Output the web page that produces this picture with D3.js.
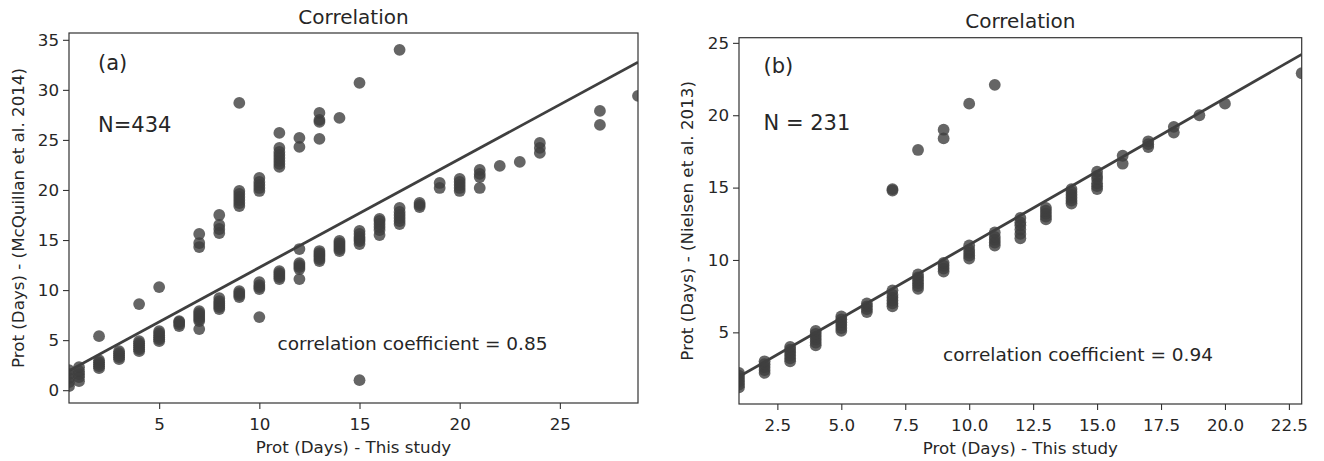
<!DOCTYPE html>
<html>
<head>
<meta charset="utf-8">
<script src="https://cdn.jsdelivr.net/npm/d3@7/dist/d3.min.js"></script>
<style>
  body { margin: 0; background: #fff; }
  text { font-family: "DejaVu Sans", sans-serif; fill: #262626; }
</style>
</head>
<body>
<div id="chart"></div>
<script>
// Width and height
var chart_width  = 1324;
var chart_height = 461;

// panel (a): Prot this study vs McQuillan et al. 2014, one column per x value
var aColumns = [
  [0.5, [0.4, 0.8, 1.2, 1.6, 2.0]],
  [1,   [0.9, 1.3, 1.6, 1.9, 2.3]],
  [2,   [2.2, 2.4, 2.6, 2.8, 3.0, 5.4]],
  [3,   [3.1, 3.3, 3.5, 3.7, 3.9]],
  [4,   [3.9, 4.1, 4.3, 4.5, 4.7, 4.9, 8.6]],
  [5,   [4.9, 5.1, 5.3, 5.5, 5.7, 5.9, 10.3]],
  [6,   [6.4, 6.6, 6.8, 6.9]],
  [7,   [6.1, 6.9, 7.1, 7.3, 7.5, 7.7, 7.9, 14.3, 14.7, 15.6]],
  [8,   [8.1, 8.3, 8.5, 8.7, 8.9, 9.2, 15.7, 16.1, 16.5, 17.5]],
  [9,   [9.3, 9.5, 9.7, 9.9, 18.4, 18.7, 19.0, 19.3, 19.6, 19.9, 28.7]],
  [10,  [7.3, 10.1, 10.3, 10.5, 10.8, 19.9, 20.2, 20.5, 20.8, 21.2]],
  [11,  [11.1, 11.3, 11.5, 11.7, 11.9, 22.3, 22.6, 22.9, 23.2, 23.5, 23.8, 24.2, 25.7]],
  [12,  [11.1, 12.1, 12.3, 12.5, 12.7, 14.1, 24.3, 25.2]],
  [13,  [12.9, 13.1, 13.3, 13.5, 13.7, 13.9, 25.1, 26.8, 27.0, 27.7]],
  [14,  [13.9, 14.1, 14.3, 14.5, 14.7, 14.9, 27.2]],
  [15,  [1.0, 14.6, 14.9, 15.1, 15.3, 15.6, 15.9, 30.7]],
  [16,  [15.5, 16.0, 16.3, 16.6, 16.9, 17.1]],
  [17,  [16.6, 16.9, 17.2, 17.5, 17.8, 18.2, 34.0]],
  [18,  [18.3, 18.5, 18.7]],
  [19,  [20.2, 20.7]],
  [20,  [19.9, 20.2, 20.5, 20.8, 21.1]],
  [21,  [20.2, 21.3, 21.6, 22.0]],
  [22,  [22.4]],
  [23,  [22.8]],
  [24,  [23.7, 24.2, 24.7]],
  [27,  [26.5, 27.9]],
  [28.9,[29.4]]
];

// panel (b): Prot this study vs Nielsen et al. 2013
var bColumns = [
  [1,  [1.2, 1.4, 1.6, 1.8, 2.0, 2.2]],
  [2,  [2.2, 2.4, 2.6, 2.8, 3.0]],
  [3,  [3.0, 3.2, 3.4, 3.6, 3.8, 4.0]],
  [4,  [4.1, 4.3, 4.5, 4.7, 4.9, 5.1]],
  [5,  [5.1, 5.3, 5.5, 5.7, 5.9, 6.1]],
  [6,  [6.4, 6.6, 6.8, 7.0]],
  [7,  [6.8, 7.0, 7.2, 7.4, 7.6, 7.9, 14.8, 14.9]],
  [8,  [8.0, 8.2, 8.4, 8.6, 8.8, 9.0, 17.6]],
  [9,  [9.2, 9.4, 9.6, 9.8, 18.4, 19.0]],
  [10, [10.1, 10.3, 10.5, 10.7, 11.0, 20.8]],
  [11, [11.0, 11.2, 11.4, 11.6, 11.9, 22.1]],
  [12, [11.5, 11.8, 12.1, 12.4, 12.6, 12.9]],
  [13, [12.8, 13.0, 13.2, 13.4, 13.6]],
  [14, [13.9, 14.1, 14.3, 14.5, 14.7, 14.9]],
  [15, [14.9, 15.1, 15.3, 15.6, 15.8, 16.1]],
  [16, [16.65, 17.2]],
  [17, [17.8, 18.0, 18.2]],
  [18, [18.8, 19.2]],
  [19, [20.0]],
  [20, [20.8]],
  [23, [22.9]]
];

// regression lines: [intercept, slope]
var aFit = [1.4, 1.085];
var bFit = [0.93, 1.012];

// tick values
var aXTicks = [5, 10, 15, 20, 25];
var aYTicks = [0, 5, 10, 15, 20, 25, 30, 35];
var bXTicks = [2.5, 5.0, 7.5, 10.0, 12.5, 15.0, 17.5, 20.0, 22.5];
var bYTicks = [5, 10, 15, 20, 25];

// texts
var titles  = ["Correlation", "Correlation"];
var xLabels = ["Prot (Days) - This study", "Prot (Days) - This study"];
var yLabels = ["Prot (Days) - (McQuillan et al. 2014)", "Prot (Days) - (Nielsen et al. 2013)"];
var tags    = ["(a)", "(b)"];
var counts  = ["N=434", "N = 231"];
var coeffs  = ["correlation coefficient = 0.85", "correlation coefficient = 0.94"];

var svg = d3.select("#chart")
    .append("svg")
    .attr("width", chart_width)
    .attr("height", chart_height);

function flatten(cols) {
  var pts = [];
  cols.forEach(function(c){
    c[1].forEach(function(v){ pts.push([c[0], v]); });
  });
  return pts;
}

function drawPanel(i, cols, fit, xTicks, yTicks, xFmt, box, txt) {
  var pts = flatten(cols);
  var xExt = d3.extent(pts, function(d){ return d[0]; });
  var lineY = xExt.map(function(x){ return fit[0] + fit[1] * x; });
  var lo = Math.min(d3.min(pts, function(d){ return d[1]; }), d3.min(lineY));
  var hi = Math.max(d3.max(pts, function(d){ return d[1]; }), d3.max(lineY));
  var pad = (hi - lo) * 0.05;

  var x = d3.scaleLinear().domain(xExt).range([box.left, box.right]);
  var y = d3.scaleLinear().domain([lo - pad, hi + pad]).range([box.bottom, box.top]);

  var clipId = "clip" + i;
  svg.append("clipPath").attr("id", clipId)
    .append("rect")
    .attr("x", box.left).attr("y", box.top)
    .attr("width", box.right - box.left).attr("height", box.bottom - box.top);

  var g = svg.append("g").attr("clip-path", "url(#" + clipId + ")");

  g.selectAll("circle")
    .data(pts)
    .enter()
    .append("circle")
    .attr("cx", function(d){ return x(d[0]); })
    .attr("cy", function(d){ return y(d[1]); })
    .attr("r", 5.9)
    .attr("fill", "#3f3f3f")
    .attr("fill-opacity", 0.8);

  var line = d3.line()
    .x(function(d){ return x(d); })
    .y(function(d){ return y(fit[0] + fit[1] * d); });

  g.append("path")
    .datum(xExt)
    .attr("d", line)
    .attr("fill", "none")
    .attr("stroke", "#3f3f3f")
    .attr("stroke-width", 2.8);

  // axes
  var xAxis = svg.append("g")
    .attr("transform", "translate(0," + box.bottom + ")")
    .call(d3.axisBottom(x).tickValues(xTicks).tickFormat(xFmt).tickSize(6).tickPadding(9));
  var yAxis = svg.append("g")
    .attr("transform", "translate(" + box.left + ",0)")
    .call(d3.axisLeft(y).tickValues(yTicks).tickSize(6).tickPadding(4));

  [xAxis, yAxis].forEach(function(a){
    a.select(".domain").remove();
    a.selectAll("line").attr("stroke", "#333").attr("stroke-width", 1.1);
    a.selectAll("text")
      .attr("fill", "#262626")
      .style("font-family", '"DejaVu Sans", sans-serif')
      .style("font-size", "16.7px");
  });

  // frame
  svg.append("rect")
    .attr("x", box.left).attr("y", box.top)
    .attr("width", box.right - box.left).attr("height", box.bottom - box.top)
    .attr("fill", "none")
    .attr("stroke", "#333")
    .attr("stroke-width", 1.2);

  var cx = (box.left + box.right) / 2;

  svg.append("text")
    .attr("x", cx).attr("y", box.top - 9.3)
    .attr("text-anchor", "middle")
    .style("font-size", "20px")
    .text(titles[i]);

  svg.append("text")
    .attr("x", cx).attr("y", txt.xLabY)
    .attr("text-anchor", "middle")
    .style("font-size", "16.7px")
    .text(xLabels[i]);

  svg.append("text")
    .attr("transform", "translate(" + txt.yLabX + "," + ((box.top + box.bottom) / 2) + ") rotate(-90)")
    .attr("text-anchor", "middle")
    .style("font-size", "16.7px")
    .text(yLabels[i]);

  svg.append("text")
    .attr("x", txt.tagX).attr("y", txt.tagY)
    .style("font-size", "21px")
    .text(tags[i]);

  svg.append("text")
    .attr("x", txt.tagX).attr("y", txt.nY)
    .style("font-size", "21px")
    .text(counts[i]);

  svg.append("text")
    .attr("x", txt.cX).attr("y", txt.cY)
    .style("font-size", "18.5px")
    .text(coeffs[i]);
}

drawPanel(0, aColumns, aFit, aXTicks, aYTicks, d3.format("d"),
  {left: 69, right: 638, top: 33, bottom: 403},
  {xLabY: 453, yLabX: 24, tagX: 98, tagY: 70, nY: 131.5, cX: 277.5, cY: 350});

drawPanel(1, bColumns, bFit, bXTicks, bYTicks, d3.format(".1f"),
  {left: 739, right: 1301.7, top: 37.7, bottom: 404},
  {xLabY: 454, yLabX: 693, tagX: 763.5, tagY: 73, nY: 129.5, cX: 943, cY: 360.5});
</script>
</body>
</html>
